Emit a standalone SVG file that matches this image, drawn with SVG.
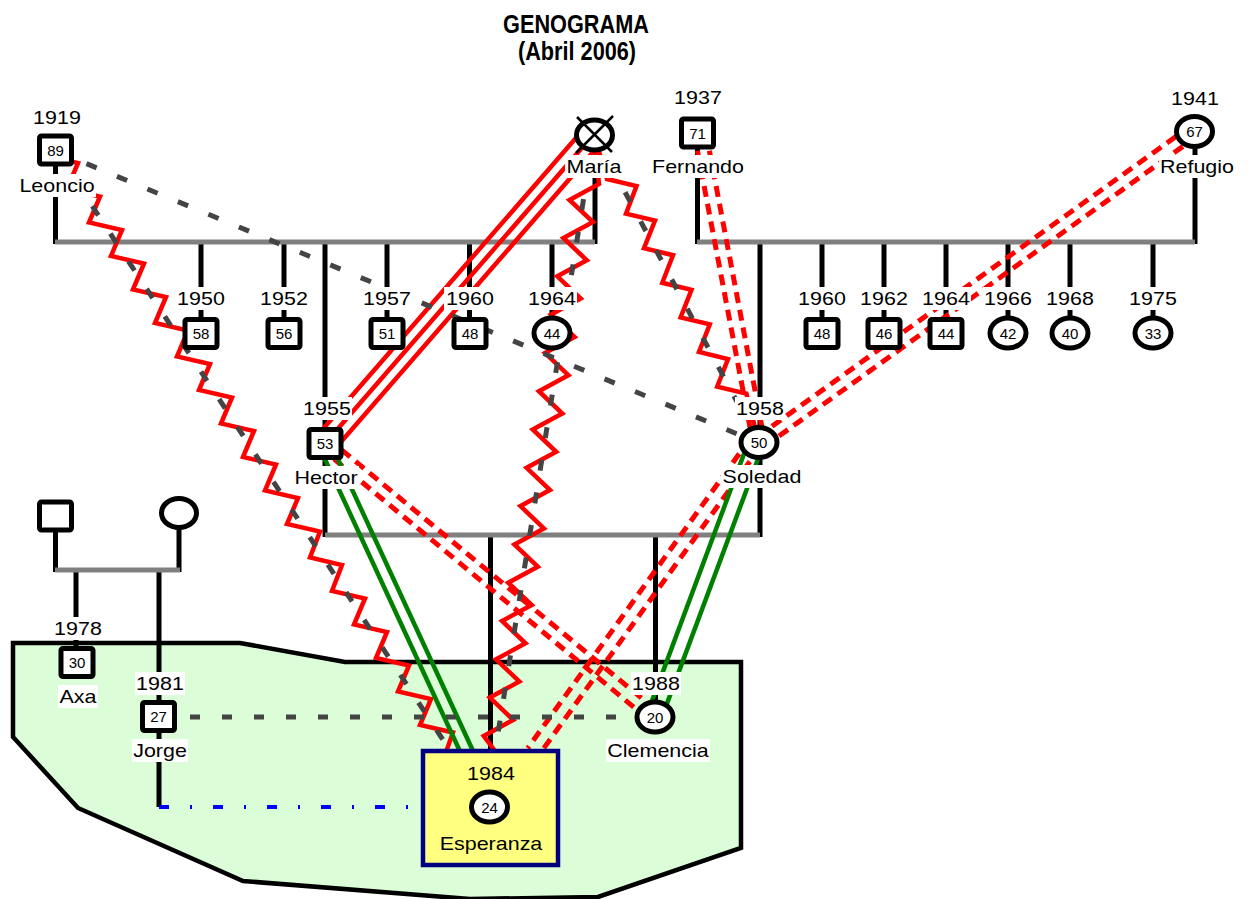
<svg xmlns="http://www.w3.org/2000/svg" width="1248" height="899" viewBox="0 0 1248 899">
<style>
.t{font-family:"Liberation Sans",Arial,sans-serif;font-size:19px;text-anchor:middle;fill:#000}
.n{font-family:"Liberation Sans",Arial,sans-serif;font-size:15px;text-anchor:middle;fill:#000}
.ttl{font-family:"Liberation Sans",Arial,sans-serif;font-size:26px;font-weight:bold;text-anchor:middle;fill:#000}
.bg{fill:#fff}
.fam{stroke:#000;stroke-width:5;fill:none}
.mar{stroke:#808080;stroke-width:5;fill:none}
.sq{fill:#fff;stroke:#000;stroke-width:5}
.ci{fill:#fff;stroke:#000;stroke-width:5}
.zig{fill:none;stroke:#ff0000;stroke-width:4.5;stroke-linejoin:miter}
.gd{fill:none;stroke:#444;stroke-width:5;stroke-dasharray:11 22}
.rd{fill:none;stroke:#ff0000;stroke-width:5;stroke-dasharray:11 7}
.rs{fill:none;stroke:#ff0000;stroke-width:4.5}
.gr{fill:none;stroke:#008000;stroke-width:4.5}
</style>

<!-- title -->
<g id="title">
<text class="ttl" transform="translate(576 33) scale(0.835 1)">GENOGRAMA</text>
<text class="ttl" transform="translate(577 60) scale(0.835 1)">(Abril 2006)</text>
</g>

<!-- shared household -->
<polygon id="household" points="13,643 240,643 345,662 741,662 741,848 598,897 470,899 243,881 78,808 13,737" fill="#dbfdd8" stroke="#000" stroke-width="4.5" stroke-linejoin="miter"/>

<!-- family lines -->
<g id="family-lines">
<path class="fam" d="M55.5,164V244 M595,149V244 M697.5,147V244 M1195,146V244"/>
<path class="fam" d="M201,244V320 M284,244V320 M387,244V320 M469.5,244V320 M552,244V320 M325,244V537"/>
<path class="fam" d="M822,244V320 M884,244V320 M946,244V320 M1008,244V320 M1070,244V320 M1153,244V320 M760,244V537"/>
<path class="fam" d="M490.5,537V751 M655.5,537V702"/>
<path class="fam" d="M55.5,530V572 M179,527V572 M76,572V648 M159,572V807"/>
<path class="mar" d="M55,242H595 M697,242H1195 M325,535H760 M55,570H180"/>
</g>

<!-- relationship connectors -->
<g id="connectors">
<!-- María – Hector -->
<path class="rs" d="M594,134L325,443.5 M602.3,141.2L333.3,450.7 M585.7,126.8L316.7,436.3"/>
<!-- Leoncio – Esperanza -->
<polyline class="zig" points="56,151 45,155.5 78,163 67,189 100,196.5 89,222.5 122,230 111,256 144,263.5 133,289.5 166,297 155,323 188,330.5 177,356.5 210,364 199,390 232,397.5 221,423.5 254,431 243,457 276,464.5 265,490.5 298,498 287,524 320,531.5 310,557.5 342,565 332,591 365,598.5 354,624.5 387,632 376,658 409,665.5 398,691.5 431,699 420,725 453,732.5 446,752"/>
<path class="gd" d="M56,151L451,752"/>
<!-- María – Esperanza -->
<polyline class="zig" points="594,134 599,184 569.5,200 593,222 563.4,238 586.8,260.3 557.3,276.3 580.7,298.6 551.1,314.6 574.6,336.9 545,352.9 568.4,375.2 538.9,391.2 562.3,413.5 532.7,429.5 556.2,451.8 526.6,467.8 550,490.1 520.5,506.1 543.9,528.4 514.4,544.4 537.8,566.7 508.2,582.7 531.7,605 502.1,621 525.5,643.3 496,659.3 519.4,681.6 489.8,697.6 513.2,719.9 483.7,735.9 498,755"/>
<path class="gd" d="M594,134L495,752"/>
<!-- María – Soledad -->
<polyline class="zig" points="594,134 607,179 636.5,186 626,213.6 655,220.6 644,248.2 673,255.2 662.3,282.8 691.5,289.8 680.6,317.4 709.8,324.4 699,352 728,359 717.2,386.6 746.4,393.6 759,443"/>
<path class="gd" d="M594,134L759,443"/>
<!-- Leoncio – Soledad -->
<path class="gd" d="M56,151L759,443"/>
<!-- Fernando – Soledad -->
<path class="rd" d="M694,133L753,443 M706,133L765,443"/>
<!-- Refugio – Soledad -->
<path class="rd" d="M1190.5,126.1L755.5,438.1 M1197.5,135.9L762.5,447.9"/>
<!-- Hector – Clemencia -->
<path class="rd" d="M327.8,438.4L658.8,712.4 M320.2,447.6L651.2,721.6"/>
<!-- Soledad – Esperanza -->
<path class="rd" d="M749.7,439.2L527.7,748.2 M760.3,446.8L538.3,755.8"/>
<!-- Hector – Esperanza -->
<path class="gr" d="M318.6,445.5L461.7,755 M329.4,440.5L474.9,755"/>
<!-- Soledad – Clemencia -->
<path class="gr" d="M749,440.4L647,714.4 M763,445.6L661,719.6"/>
<!-- Jorge – Clemencia -->
<path d="M190,717H640" fill="none" stroke="#444" stroke-width="5" stroke-dasharray="10 22"/>
<!-- Jorge – Esperanza -->
<path d="M159,807H410" fill="none" stroke="#0000ff" stroke-width="4" stroke-dasharray="10 21 2 21"/>
</g>

<!-- people -->
<g id="leoncio">
<rect class="sq" x="39.5" y="136" width="32" height="28" rx="2"/>
<text class="n" x="55.5" y="155.5">89</text>
<rect class="bg" x="32" y="106" width="50" height="23"/>
<text class="t" transform="translate(57 124) scale(1.13 1)">1919</text>
<rect class="bg" x="18" y="174" width="78" height="23"/>
<text class="t" transform="translate(57 192) scale(1.13 1)">Leoncio</text>
</g>

<g id="maria">
<ellipse class="ci" cx="594.5" cy="135" rx="18" ry="15"/>
<path d="M577,117L612,152 M613,116L576,153" stroke="#000" stroke-width="2.5"/>
<rect class="bg" x="565" y="155" width="58" height="23"/>
<text class="t" transform="translate(594 173) scale(1.13 1)">María</text>
</g>

<g id="fernando">
<rect class="sq" x="681.5" y="119" width="32" height="28" rx="2"/>
<text class="n" x="697.5" y="138.5">71</text>
<rect class="bg" x="673" y="86" width="50" height="23"/>
<text class="t" transform="translate(698 104) scale(1.13 1)">1937</text>
<rect class="bg" x="651" y="155" width="94" height="23"/>
<text class="t" transform="translate(698 173) scale(1.13 1)">Fernando</text>
</g>

<g id="refugio">
<ellipse class="ci" cx="1194.5" cy="131.5" rx="18" ry="15"/>
<text class="n" x="1194.5" y="137">67</text>
<rect class="bg" x="1170" y="87" width="50" height="23"/>
<text class="t" transform="translate(1195 105) scale(1.13 1)">1941</text>
<rect class="bg" x="1159" y="155" width="77" height="23"/>
<text class="t" transform="translate(1197 173) scale(1.13 1)">Refugio</text>
</g>

<g id="child-1950">
<rect class="sq" x="185" y="319.5" width="32" height="28" rx="2"/>
<text class="n" x="201" y="339">58</text>
<rect class="bg" x="176" y="287" width="50" height="23"/>
<text class="t" transform="translate(201 305) scale(1.13 1)">1950</text>
</g>
<g id="child-1952">
<rect class="sq" x="268" y="319.5" width="32" height="28" rx="2"/>
<text class="n" x="284" y="339">56</text>
<rect class="bg" x="259" y="287" width="50" height="23"/>
<text class="t" transform="translate(284 305) scale(1.13 1)">1952</text>
</g>
<g id="child-1957">
<rect class="sq" x="371" y="319.5" width="32" height="28" rx="2"/>
<text class="n" x="387" y="339">51</text>
<rect class="bg" x="362" y="287" width="50" height="23"/>
<text class="t" transform="translate(387 305) scale(1.13 1)">1957</text>
</g>
<g id="child-1960a">
<rect class="sq" x="454" y="319.5" width="32" height="28" rx="2"/>
<text class="n" x="470" y="339">48</text>
<rect class="bg" x="444" y="287" width="52" height="23"/>
<text class="t" transform="translate(470 305) scale(1.13 1)">1960</text>
</g>
<g id="child-1964a">
<ellipse class="ci" cx="552" cy="333" rx="18" ry="15"/>
<text class="n" x="552" y="338.5">44</text>
<rect class="bg" x="527" y="287" width="50" height="23"/>
<text class="t" transform="translate(552 305) scale(1.13 1)">1964</text>
</g>

<g id="child-1960b">
<rect class="sq" x="806" y="319.5" width="32" height="28" rx="2"/>
<text class="n" x="822" y="339">48</text>
<rect class="bg" x="797" y="287" width="50" height="23"/>
<text class="t" transform="translate(822 305) scale(1.13 1)">1960</text>
</g>
<g id="child-1962">
<rect class="sq" x="868" y="319.5" width="32" height="28" rx="2"/>
<text class="n" x="884" y="339">46</text>
<rect class="bg" x="859" y="287" width="50" height="23"/>
<text class="t" transform="translate(884 305) scale(1.13 1)">1962</text>
</g>
<g id="child-1964b">
<rect class="sq" x="930" y="319.5" width="32" height="28" rx="2"/>
<text class="n" x="946" y="339">44</text>
<rect class="bg" x="921" y="287" width="50" height="23"/>
<text class="t" transform="translate(946 305) scale(1.13 1)">1964</text>
</g>
<g id="child-1966">
<ellipse class="ci" cx="1008" cy="333" rx="18" ry="15"/>
<text class="n" x="1008" y="338.5">42</text>
<rect class="bg" x="983" y="287" width="50" height="23"/>
<text class="t" transform="translate(1008 305) scale(1.13 1)">1966</text>
</g>
<g id="child-1968">
<ellipse class="ci" cx="1070" cy="333" rx="18" ry="15"/>
<text class="n" x="1070" y="338.5">40</text>
<rect class="bg" x="1045" y="287" width="50" height="23"/>
<text class="t" transform="translate(1070 305) scale(1.13 1)">1968</text>
</g>
<g id="child-1975">
<ellipse class="ci" cx="1153" cy="333" rx="18" ry="15"/>
<text class="n" x="1153" y="338.5">33</text>
<rect class="bg" x="1128" y="287" width="50" height="23"/>
<text class="t" transform="translate(1153 305) scale(1.13 1)">1975</text>
</g>

<g id="hector">
<rect class="sq" x="309" y="429.5" width="32" height="28" rx="2"/>
<text class="n" x="325" y="449">53</text>
<rect class="bg" x="302" y="397" width="50" height="23"/>
<text class="t" transform="translate(327 415) scale(1.13 1)">1955</text>
<rect class="bg" x="293" y="466" width="66" height="23"/>
<text class="t" transform="translate(326 484) scale(1.13 1)">Hector</text>
</g>

<g id="soledad">
<ellipse class="ci" cx="759" cy="442.5" rx="18" ry="15"/>
<text class="n" x="759" y="448">50</text>
<rect class="bg" x="735" y="397" width="50" height="23"/>
<text class="t" transform="translate(760 415) scale(1.13 1)">1958</text>
<rect class="bg" x="721" y="465" width="81" height="23"/>
<text class="t" transform="translate(762 483) scale(1.13 1)">Soledad</text>
</g>

<g id="father-axa-jorge">
<rect class="sq" x="39.5" y="502" width="32" height="28" rx="2"/>
</g>
<g id="mother-axa-jorge">
<ellipse class="ci" cx="179" cy="513" rx="17.5" ry="14.5"/>
</g>

<g id="axa">
<rect class="sq" x="61" y="648.5" width="32" height="28" rx="2"/>
<text class="n" x="77" y="668">30</text>
<rect class="bg" x="53" y="617" width="50" height="23"/>
<text class="t" transform="translate(78 635) scale(1.13 1)">1978</text>
<rect class="bg" x="58" y="685" width="40" height="23"/>
<text class="t" transform="translate(78 703) scale(1.13 1)">Axa</text>
</g>

<g id="jorge">
<rect class="sq" x="142.5" y="702.5" width="32" height="28" rx="2"/>
<text class="n" x="158.5" y="722">27</text>
<rect class="bg" x="135" y="672" width="50" height="23"/>
<text class="t" transform="translate(160 690) scale(1.13 1)">1981</text>
<rect class="bg" x="132" y="739" width="56" height="23"/>
<text class="t" transform="translate(160 757) scale(1.13 1)">Jorge</text>
</g>

<g id="clemencia">
<ellipse class="ci" cx="655" cy="717" rx="18" ry="15"/>
<text class="n" x="655" y="722.5">20</text>
<rect class="bg" x="631" y="672" width="50" height="23"/>
<text class="t" transform="translate(656 690) scale(1.13 1)">1988</text>
<rect class="bg" x="606" y="739" width="104" height="23"/>
<text class="t" transform="translate(658 757) scale(1.13 1)">Clemencia</text>
</g>

<g id="esperanza">
<rect x="423" y="751" width="135" height="114" fill="#ffff80" stroke="#000080" stroke-width="4.5"/>
<text class="t" transform="translate(491 780) scale(1.13 1)">1984</text>
<ellipse class="ci" cx="489.5" cy="807" rx="18" ry="15"/>
<text class="n" x="489.5" y="812.5">24</text>
<text class="t" transform="translate(491 850) scale(1.13 1)">Esperanza</text>
</g>
</svg>
